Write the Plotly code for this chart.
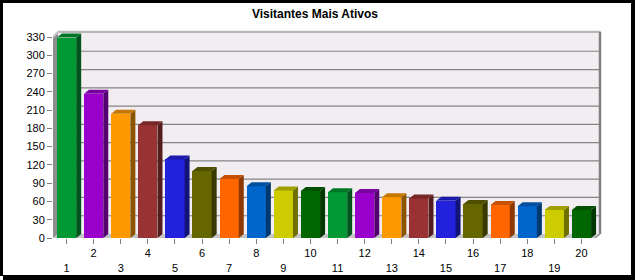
import plotly.graph_objects as go

# ---- data ----
categories = list(range(1, 21))
values = [329, 237, 204, 185, 129, 110, 97, 85, 78, 77, 75, 74, 67, 65, 61, 56, 54, 52, 46, 46]
palette = ["#009933", "#9900CC", "#FF9900", "#993333", "#2222DD",
           "#666600", "#FF6600", "#0066CC", "#CCCC00", "#006600"]
title_text = "Visitantes Mais Ativos"
y_ticks = list(range(0, 331, 30))
x_ticktext = [str(c) if c % 2 == 0 else "<br>" + str(c) for c in categories]

# ---- geometry (pixels) ----
W_FIG, H_FIG = 635, 280
L, R, T, B = 53, 32, 28, 42
PW, PH = W_FIG - L - R, H_FIG - T - B
PX_X = 27.1            # px per category unit
PX_Y = 201.0 / 330.0   # px per value unit
DX = 5 / PX_X
DY = 4 / PX_Y
XR = [0.5, 0.5 + PW / PX_X]
YR = [0, PH / PX_Y]
BW = 0.71
YMAX = 330
X0, X1 = 0.5, 0.5 + len(categories)


def shade(hexc, f):
    h = hexc.lstrip("#")
    r, g, b = (int(h[i:i + 2], 16) for i in (0, 2, 4))
    return "#%02X%02X%02X" % (int(r * f), int(g * f), int(b * f))


colors = [palette[i % len(palette)] for i in range(len(categories))]

fig = go.Figure()

# front faces
fig.add_trace(go.Bar(x=categories, y=values, width=BW,
                     marker=dict(color=colors, line=dict(width=0)),
                     hoverinfo="skip", showlegend=False))

# side + top faces
for c, v, col in zip(categories, values, colors):
    xr = c + BW / 2
    xl = c - BW / 2
    fig.add_trace(go.Scatter(
        x=[xr, xr + DX, xr + DX, xr, xr], y=[0, DY, v + DY, v, 0],
        mode="lines", fill="toself", fillcolor=shade(col, 0.55),
        line=dict(width=0), hoverinfo="skip", showlegend=False))
    fig.add_trace(go.Scatter(
        x=[xl, xl + DX, xr + DX, xr, xl], y=[v, v + DY, v + DY, v, v],
        mode="lines", fill="toself", fillcolor=shade(col, 0.78),
        line=dict(width=0), hoverinfo="skip", showlegend=False))

shapes = []
# back wall
shapes.append(dict(type="rect", xref="x", yref="y", x0=X0 + DX, x1=X1 + DX,
                   y0=DY, y1=YMAX + DY, fillcolor="#F1EDF1",
                   line=dict(width=0), layer="below"))
# gridlines on back wall
for v in y_ticks[1:-1]:
    shapes.append(dict(type="line", xref="x", yref="y", x0=X0 + DX, x1=X1 + DX,
                       y0=v + DY, y1=v + DY, line=dict(color="#858585", width=1.2),
                       layer="below"))
# floor
shapes.append(dict(type="path", xref="x", yref="y",
                   path=f"M {X0},0 L {X1},0 L {X1 + DX},{DY} L {X0 + DX},{DY} Z",
                   fillcolor="#C4C4C4", line=dict(width=0), layer="below"))
# left wall
shapes.append(dict(type="path", xref="x", yref="y",
                   path=f"M {X0},0 L {X0 + DX},{DY} L {X0 + DX},{YMAX + DY} L {X0},{YMAX} Z",
                   fillcolor="#8E8E8E", line=dict(width=0), layer="below"))
# top edge of back wall
top_y = YMAX + DY + 1.2 / PX_Y
shapes.append(dict(type="line", xref="x", yref="y", x0=X0 + DX, x1=X1 + DX + 0.5 / PX_X,
                   y0=top_y, y1=top_y, line=dict(color="#B8B8B8", width=2.2),
                   layer="below"))
shapes.append(dict(type="line", xref="x", yref="y", x0=X0, x1=X0 + DX,
                   y0=YMAX, y1=top_y, line=dict(color="#C8C8C8", width=2),
                   layer="below"))
# right edge of back wall
shapes.append(dict(type="line", xref="x", yref="y", x0=X1 + DX, x1=X1 + DX,
                   y0=DY, y1=top_y, line=dict(color="#808080", width=2.5),
                   layer="below"))
# floor right slant
shapes.append(dict(type="line", xref="x", yref="y", x0=X1, x1=X1 + DX,
                   y0=0, y1=DY, line=dict(color="#999999", width=1.5),
                   layer="below"))


# outer frame (paper coords from pixels)
def pxx(px):
    return (px - L) / PW


def pxy(py):
    return 1 - (py - T) / PH


for (a, b_, c, d) in [(0, 0, 635, 3), (0, 0, 3, 276), (631, 0, 635, 280), (3, 275, 635, 280)]:
    shapes.append(dict(type="rect", xref="paper", yref="paper",
                       x0=pxx(a), x1=pxx(c), y0=pxy(d), y1=pxy(b_),
                       fillcolor="black", line=dict(width=0), layer="above"))

fig.update_layout(
    width=W_FIG, height=H_FIG,
    margin=dict(l=L, r=R, t=T, b=B, pad=0),
    paper_bgcolor="white", plot_bgcolor="white",
    font=dict(family="Liberation Sans, Arial, sans-serif", size=11, color="black"),
    title=dict(text="<b>" + title_text + "</b>", x=315 / W_FIG, xanchor="center",
               y=1 - 14 / H_FIG, yanchor="middle", xref="container", yref="container",
               font=dict(size=12, color="black")),
    shapes=shapes,
    bargap=0,
    xaxis=dict(range=XR, tickvals=categories, ticktext=x_ticktext,
               showgrid=False, zeroline=False, showline=False, automargin=False,
               ticks="outside", ticklen=5, tickcolor="#808080", tickwidth=1,
               fixedrange=True),
    yaxis=dict(range=YR, tickvals=y_ticks, showgrid=False, zeroline=False,
               showline=False, automargin=False, ticks="outside", ticklen=5,
               tickcolor="#808080", tickwidth=1, fixedrange=True),
)

fig.write_html("out.html")
